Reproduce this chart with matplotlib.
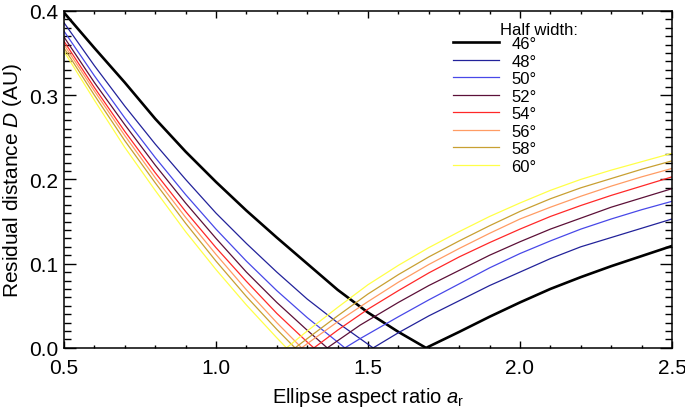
import matplotlib.pyplot as plt
from matplotlib.ticker import MultipleLocator

plt.rcParams['font.family'] = ['Liberation Sans', 'DejaVu Sans']
plt.rcParams['mathtext.fontset'] = 'custom'
plt.rcParams['mathtext.rm'] = 'Liberation Sans'
plt.rcParams['mathtext.it'] = 'Liberation Sans:italic'

# half widths of the legend
half_widths = [46, 48, 50, 52, 54, 56, 58, 60]
colors = ['black', '#22229a', '#4848e8', '#5c1038', '#ff2828', '#ff9c64', '#c8a032', '#ffff48']

# points, one curve per half width
a_46 = [0.5, 0.6, 0.7, 0.8, 0.9, 1.0, 1.1, 1.2, 1.3, 1.4, 1.5, 1.6, 1.691,
        1.8, 1.9, 2.0, 2.1, 2.2, 2.3, 2.4, 2.5]
d_46 = [0.398, 0.356, 0.315, 0.272, 0.233, 0.197, 0.163, 0.131, 0.100, 0.069, 0.042, 0.019, 0.0,
        0.019, 0.037, 0.054, 0.070, 0.084, 0.097, 0.109, 0.121]
a_48 = [0.5, 0.6, 0.7, 0.8, 0.9, 1.0, 1.1, 1.2, 1.3, 1.4, 1.517,
        1.6, 1.7, 1.8, 1.9, 2.0, 2.1, 2.2, 2.3, 2.4, 2.5]
d_48 = [0.386, 0.335, 0.287, 0.242, 0.200, 0.160, 0.124, 0.090, 0.058, 0.030, 0.0,
        0.018, 0.038, 0.056, 0.074, 0.090, 0.106, 0.120, 0.131, 0.142, 0.153]
a_50 = [0.5, 0.6, 0.7, 0.8, 0.9, 1.0, 1.1, 1.2, 1.3, 1.4, 1.424,
        1.474, 1.6, 1.7, 1.8, 1.9, 2.0, 2.1, 2.2, 2.3, 2.4, 2.5]
d_50 = [0.376, 0.323, 0.273, 0.226, 0.182, 0.141, 0.103, 0.068, 0.036, 0.007, 0.0,
        0.011, 0.037, 0.057, 0.076, 0.095, 0.112, 0.127, 0.141, 0.153, 0.164, 0.174]
a_52 = [0.5, 0.6, 0.7, 0.8, 0.9, 1.0, 1.1, 1.2, 1.3, 1.366,
        1.474, 1.6, 1.7, 1.8, 1.9, 2.0, 2.1, 2.2, 2.3, 2.4, 2.5]
d_52 = [0.369, 0.315, 0.265, 0.217, 0.172, 0.130, 0.090, 0.054, 0.021, 0.0,
        0.027, 0.054, 0.074, 0.092, 0.110, 0.126, 0.141, 0.154, 0.167, 0.178, 0.189]
a_54 = [0.5, 0.6, 0.7, 0.8, 0.9, 1.0, 1.1, 1.2, 1.3, 1.322,
        1.4, 1.5, 1.6, 1.7, 1.8, 1.9, 2.0, 2.1, 2.2, 2.3, 2.4, 2.5]
d_54 = [0.364, 0.309, 0.257, 0.208, 0.162, 0.119, 0.079, 0.041, 0.007, 0.0,
        0.021, 0.046, 0.068, 0.089, 0.108, 0.125, 0.141, 0.156, 0.169, 0.181, 0.192, 0.203]
a_56 = [0.5, 0.6, 0.7, 0.8, 0.9, 1.0, 1.1, 1.2, 1.282,
        1.3, 1.4, 1.5, 1.6, 1.7, 1.8, 1.9, 2.0, 2.1, 2.2, 2.3, 2.4, 2.5]
d_56 = [0.360, 0.305, 0.252, 0.202, 0.155, 0.111, 0.069, 0.030, 0.0,
        0.005, 0.031, 0.055, 0.078, 0.099, 0.118, 0.136, 0.153, 0.167, 0.180, 0.192, 0.203, 0.213]
a_58 = [0.5, 0.6, 0.7, 0.8, 0.9, 1.0, 1.1, 1.2, 1.26,
        1.3, 1.4, 1.5, 1.6, 1.7, 1.8, 1.9, 2.0, 2.1, 2.2, 2.3, 2.4, 2.5]
d_58 = [0.356, 0.300, 0.246, 0.196, 0.148, 0.103, 0.061, 0.022, 0.0,
        0.011, 0.038, 0.064, 0.087, 0.108, 0.127, 0.145, 0.162, 0.177, 0.190, 0.201, 0.212, 0.222]
a_60 = [0.5, 0.6, 0.7, 0.8, 0.9, 1.0, 1.1, 1.2, 1.232,
        1.3, 1.4, 1.5, 1.6, 1.7, 1.8, 1.9, 2.0, 2.1, 2.2, 2.3, 2.4, 2.5]
d_60 = [0.352, 0.294, 0.238, 0.187, 0.138, 0.093, 0.051, 0.012, 0.0,
        0.020, 0.048, 0.075, 0.098, 0.119, 0.138, 0.156, 0.172, 0.187, 0.200, 0.211, 0.221, 0.231]

curves = [(a_46, d_46), (a_48, d_48), (a_50, d_50), (a_52, d_52),
          (a_54, d_54), (a_56, d_56), (a_58, d_58), (a_60, d_60)]

fig = plt.figure(figsize=(6.85, 4.10), dpi=100)
ax = fig.add_axes([0.0934, 0.149, 0.8876, 0.822])

for (a, d), hw, c in zip(curves, half_widths, colors):
    lw = 1.9 if hw == 46 else 0.9
    ax.plot(a, d, color=c, lw=lw, label=f'{hw}°')

ax.set_xlim(0.5, 2.5)
ax.set_ylim(0.0, 0.4)
ax.xaxis.set_major_locator(MultipleLocator(0.5))
ax.xaxis.set_minor_locator(MultipleLocator(0.1))
ax.yaxis.set_major_locator(MultipleLocator(0.1))
ax.yaxis.set_minor_locator(MultipleLocator(0.01))
ax.xaxis.set_major_formatter(plt.FormatStrFormatter('%.1f'))
ax.yaxis.set_major_formatter(plt.FormatStrFormatter('%.1f'))
ax.tick_params(which='both', direction='in', top=True, right=True, labelsize=15, width=1.0)
ax.tick_params(axis='x', which='major', length=5, pad=7)
ax.tick_params(axis='x', which='minor', length=2.5)
ax.tick_params(axis='y', which='major', length=8.6, pad=4)
ax.tick_params(axis='y', which='minor', length=4.7)
for s in ax.spines.values():
    s.set_linewidth(1.1)

ax.set_xlabel('Ellipse aspect ratio $a_\\mathregular{r}$', fontsize=14.5, labelpad=6)
ax.set_ylabel('Residual distance $D$ (AU)', fontsize=15, labelpad=4)

ax.text(0.717, 0.944, 'Half width:', transform=ax.transAxes, fontsize=12, ha='left', va='center')
ax.legend(loc='upper left', bbox_to_anchor=(0.64, 0.925), frameon=False, fontsize=12,
          handlelength=2.75, handletextpad=0.75, labelspacing=0.15, borderpad=0, borderaxespad=0)

fig.savefig('out.png', dpi=100)
